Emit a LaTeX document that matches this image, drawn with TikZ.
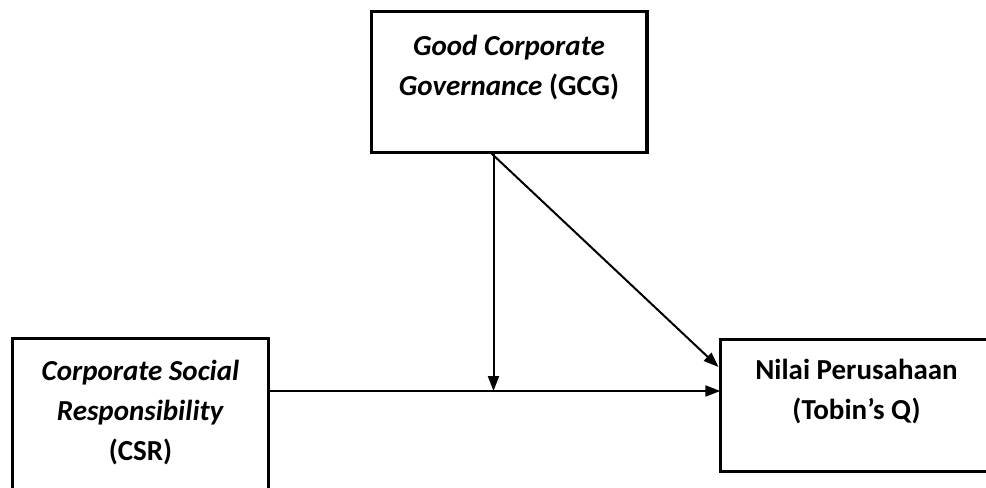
\documentclass[tikz,border=0pt]{standalone}
\usepackage{fontspec}
\setmainfont{Carlito}
\usetikzlibrary{arrows.meta}
\begin{document}
\begin{tikzpicture}[x=1bp,y=-1bp,
  box/.style={draw, line width=3.3bp, inner sep=0pt, outer sep=0pt},
  lbl/.style={align=center, inner sep=0pt, font=\fontsize{29bp}{40bp}\selectfont\bfseries},
  conn/.style={line width=2bp, -{Triangle[length=15bp,width=11bp]}}]
\useasboundingbox (0,0) rectangle (986,488);
\clip (0,0) rectangle (986,488);
% boxes
\node[box, minimum width=275.3bp, minimum height=141bp] (gcg) at (509.3,82.2) {};
\node[box, minimum width=256bp, minimum height=220bp] (csr) at (140.3,448.3) {};
\node[box, minimum width=269.7bp, minimum height=132bp] (nilai) at (855.2,405.3) {};
% texts
\node[lbl] (gcgt) at (509,68) {\textit{Good Corporate}\\\textit{Governance} (GCG)};
\node[lbl] (csrt) at (140.5,413) {\textit{Corporate Social}\\\textit{Responsibility}\\(CSR)};
\node[lbl] (nilait) at (856.5,392) {Nilai Perusahaan\\(Tobin’s Q)};
% helper coordinates
\coordinate (m) at (493.5,391);
\coordinate (ds) at (491,153);
\coordinate (de) at (718.5,367);
% connectors
\draw[conn] (gcg.south -| m) -- (m);
\draw[conn] (csr.east |- m) -- (nilai.west |- m);
\draw[conn] (ds) -- (de);
\end{tikzpicture}
\end{document}
